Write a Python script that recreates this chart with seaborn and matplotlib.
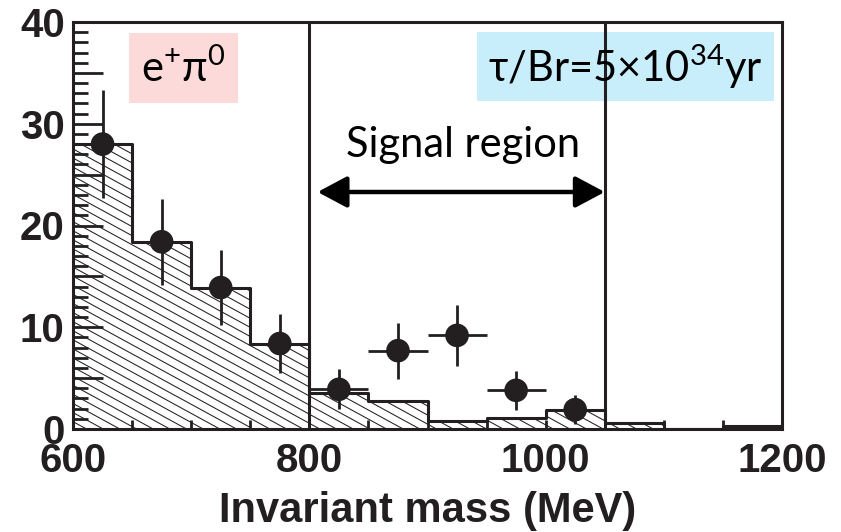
import matplotlib
matplotlib.use("Agg")
import matplotlib.pyplot as plt
import matplotlib.hatch as mhatch
from matplotlib.path import Path
import seaborn as sns
import numpy as np
import pandas as pd
from matplotlib.ticker import MultipleLocator, FixedLocator, FuncFormatter
from matplotlib.patches import Rectangle

# ---------------- data ----------------
bin_edges = [600, 650, 700, 750, 800, 850, 900, 950, 1000, 1050, 1100, 1150, 1200]
bg_counts = [28.0, 18.4, 13.9, 8.4, 3.5, 2.8, 0.8, 1.1, 1.9, 0.55, 0.0, 0.3]

data_mass = [625, 675, 725, 775, 825, 875, 925, 975, 1025]
data_counts = [28.0, 18.4, 13.9, 8.4, 3.9, 7.7, 9.2, 3.8, 1.9]
data_err = [5.3, 4.2, 3.7, 2.9, 1.95, 2.75, 3.0, 1.9, 1.4]
mass_halfwidth = [25, 25, 25, 25, 25, 25, 25, 25, 25]

signal_lo, signal_hi = 800, 1050
x_ticklabels = [600, 800, 1000, 1200]
y_ticklabels = [0, 10, 20, 30, 40]

channel_label = "e$^{+}$π$^{0}$"
lifetime_label = "τ/Br=5×10$^{34}$yr"
region_label = "Signal region"
xlabel = "Invariant mass (MeV)"


# ---------------- shallow hatch style (ROOT-like, ~30 deg) ----------------
class ShallowSEHatch(mhatch.HatchPatternBase):
    N = 11      # lines per hatch cell (vertical)
    DROP = 6    # drop (in line spacings) across one cell width

    def __init__(self, hatch, density):
        self.n_lines = (self.N + self.DROP + 1) if "\\" in hatch else 0
        self.num_vertices = self.n_lines * 2

    def set_vertices_and_codes(self, vertices, codes):
        c = np.arange(self.n_lines) / self.N
        vertices[0::2, 0] = 0.0
        vertices[0::2, 1] = c
        vertices[1::2, 0] = 1.0
        vertices[1::2, 1] = c - self.DROP / self.N
        codes[0::2] = Path.MOVETO
        codes[1::2] = Path.LINETO


mhatch._hatch_types = [ShallowSEHatch if t is mhatch.SouthEastHatch else t
                       for t in mhatch._hatch_types]

# ---------------- style ----------------
INK = "#231f20"
sns.set_theme(style="ticks")
plt.rcParams["font.family"] = ["Liberation Sans", "DejaVu Sans"]
plt.rcParams["hatch.color"] = INK
plt.rcParams["hatch.linewidth"] = 0.75
plt.rcParams["mathtext.fontset"] = "custom"
plt.rcParams["mathtext.rm"] = "Lato"
plt.rcParams["mathtext.default"] = "regular"
ANN_FONT = ["Lato", "Noto Sans", "DejaVu Sans"]

AX_W_PX, AX_H_PX = 709, 407
fig = plt.figure(figsize=(8.41, 5.32), dpi=100)
ax = fig.add_axes([73 / 841, (532 - 429) / 532, AX_W_PX / 841, AX_H_PX / 532])

centers = [(a + b) / 2 for a, b in zip(bin_edges[:-1], bin_edges[1:])]
df = pd.DataFrame({"mass": centers, "count": bg_counts})

# hatched fill
sns.histplot(data=df, x="mass", weights="count", bins=bin_edges, element="step",
             fill=True, color=INK, facecolor="none", edgecolor=INK, hatch="\\",
             linewidth=0, ax=ax, zorder=1)
# outline
sns.histplot(data=df, x="mass", weights="count", bins=bin_edges, element="step",
             fill=False, color=INK, linewidth=2.2, ax=ax, zorder=2)

# signal region lines
ax.axvline(signal_lo, color=INK, lw=2.2, zorder=3)
ax.axvline(signal_hi, color=INK, lw=2.2, zorder=3)

# data points
ax.errorbar(data_mass, data_counts, xerr=mass_halfwidth, yerr=data_err, fmt="none",
            ecolor=INK, elinewidth=2.0, capsize=0, zorder=4)
pts = pd.DataFrame({"mass": data_mass, "count": data_counts})
sns.scatterplot(data=pts, x="mass", y="count", s=17 ** 2, color=INK,
                edgecolor="none", ax=ax, zorder=5)

# axes
ax.set_xlim(600, 1200)
ax.set_ylim(0, 40)
ax.set_autoscale_on(False)
ax.xaxis.set_major_locator(FixedLocator(x_ticklabels))
ax.xaxis.set_minor_locator(MultipleLocator(50))
ax.yaxis.set_major_locator(MultipleLocator(5))
ax.yaxis.set_minor_locator(MultipleLocator(1))
ax.yaxis.set_major_formatter(FuncFormatter(
    lambda v, p: f"{int(round(v))}" if int(round(v)) in y_ticklabels else ""))
ax.tick_params(axis="x", which="both", direction="in", length=0,
               labelcolor=INK, labelsize=29, pad=9, top=False)
ax.tick_params(axis="y", which="both", direction="in", length=0,
               labelcolor=INK, labelsize=29, pad=6, right=False)
for lab in ax.get_xticklabels() + ax.get_yticklabels():
    lab.set_fontweight("bold")
for s in ax.spines.values():
    s.set_visible(True)
    s.set_linewidth(2.2)
    s.set_color(INK)
ax.set_xlabel(xlabel, fontsize=30, fontweight="bold", color=INK, labelpad=8)
ax.set_ylabel("")

# inward tick marks drawn at the locator positions (in data units)
ymaj = [v for v in ax.yaxis.get_majorticklocs() if 0 <= v <= 40]
ymin = [v for v in ax.yaxis.get_minorticklocs() if 0 <= v <= 40]
xall = sorted(set(list(ax.xaxis.get_majorticklocs()) + list(ax.xaxis.get_minorticklocs())))
xall = [v for v in xall if 600 <= v <= 1200]
x_per_px = 600 / AX_W_PX
y_per_px = 40 / AX_H_PX
ax.hlines(ymaj, 600, 600 + 30 * x_per_px, colors=INK, lw=2.0, zorder=3.5)
ax.hlines(ymin, 600, 600 + 15 * x_per_px, colors=INK, lw=2.0, zorder=3.5)
ax.vlines(xall, 0, 9 * y_per_px, colors=INK, lw=2.0, zorder=3.5)

# annotation boxes
def frac(px, py):
    return (px - 73) / AX_W_PX, (429 - py) / AX_H_PX

x0, y1 = frac(129, 33)
x1, y0 = frac(238, 103)
ax.add_patch(Rectangle((x0, y0), x1 - x0, y1 - y0, transform=ax.transAxes,
                       facecolor="#fddada", edgecolor="none", zorder=0))
ax.text((x0 + x1) / 2, (y0 + y1) / 2, channel_label, transform=ax.transAxes,
        ha="center", va="center", fontsize=30, family=ANN_FONT, color="black", zorder=6)

x0, y1 = frac(477, 32)
x1, y0 = frac(774, 101)
ax.add_patch(Rectangle((x0, y0), x1 - x0, y1 - y0, transform=ax.transAxes,
                       facecolor="#c8eefb", edgecolor="none", zorder=0))
ax.text((x0 + x1) / 2, (y0 + y1) / 2, lifetime_label, transform=ax.transAxes,
        ha="center", va="center", fontsize=30, family=ANN_FONT, color="black", zorder=6)

tx, ty = frac(463, 157)
ax.text(tx, ty, region_label, transform=ax.transAxes, ha="center", va="baseline",
        fontsize=30, family=ANN_FONT, color="black", zorder=6)

ay = (429 - 192) / AX_H_PX * 40
ax.annotate("", xy=(signal_hi, ay), xytext=(807, ay),
            arrowprops=dict(arrowstyle="<|-|>,head_length=0.6,head_width=0.32",
                            mutation_scale=30, lw=3.2, color="black",
                            shrinkA=0, shrinkB=0), zorder=6)

ax.set_xlim(600, 1200)
ax.set_ylim(0, 40)
fig.savefig("out.png", dpi=100)
